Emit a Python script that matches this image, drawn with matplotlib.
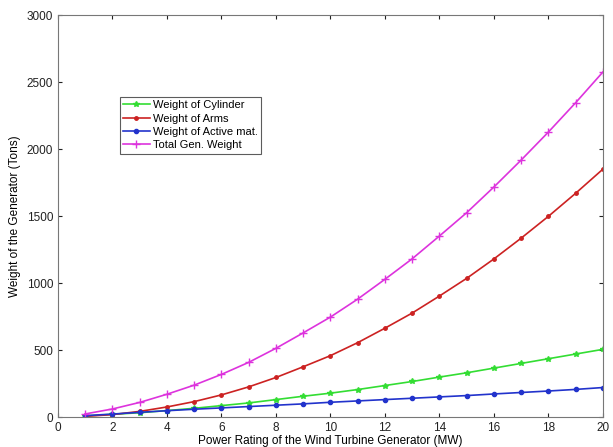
import matplotlib
matplotlib.use('Agg')
import matplotlib.pyplot as plt

plt.rcParams['font.family'] = ['Liberation Sans', 'DejaVu Sans']

power = list(range(1, 21))
cylinder = [8, 20, 32, 48, 65, 85, 105, 130, 155, 178, 205, 235, 265, 298, 330, 365, 400, 435, 470, 505]
arms = [5, 18, 42, 75, 115, 165, 225, 295, 375, 458, 555, 663, 776, 903, 1035, 1180, 1335, 1498, 1670, 1850]
active = [10, 22, 35, 47, 58, 68, 78, 88, 98, 110, 120, 130, 140, 150, 160, 172, 183, 194, 206, 220]
total = [23, 60, 109, 170, 238, 318, 408, 513, 628, 746, 880, 1028, 1181, 1351, 1525, 1717, 1918, 2127, 2346, 2575]

fig = plt.figure(figsize=(6.13, 4.47), dpi=100)
ax = fig.add_axes([0.0946, 0.0671, 0.889, 0.8993])

ax.plot(power, cylinder, color='#33dd33', marker='*', markersize=4, lw=1.2, label='Weight of Cylinder')
ax.plot(power, arms, color='#cc2222', marker='.', markersize=5, lw=1.2, label='Weight of Arms')
ax.plot(power, active, color='#2233cc', marker='o', markersize=3, lw=1.2, label='Weight of Active mat.')
ax.plot(power, total, color='#dd33dd', marker='+', markersize=6, lw=1.2, label='Total Gen. Weight')

ax.set_xlim(0, 20)
ax.set_ylim(0, 3000)
ax.set_xticks(range(0, 21, 2))
ax.set_yticks(range(0, 3001, 500))
ax.tick_params(direction='in', top=True, right=True, labelsize=8.5, length=3, colors='#222222')
for s in ax.spines.values():
    s.set_color('#777777')
    s.set_linewidth(0.8)

ax.set_xlabel('Power Rating of the Wind Turbine Generator (MW)', fontsize=8.5, labelpad=1)
ax.set_ylabel('Weight of the Generator (Tons)', fontsize=8.5, labelpad=4)

leg = ax.legend(loc='upper left', bbox_to_anchor=(0.103, 0.81), fontsize=8, frameon=True,
                fancybox=False, edgecolor='#333333', handlelength=2.4, borderpad=0.3,
                labelspacing=0.3, handletextpad=0.3)
leg.get_frame().set_linewidth(0.8)

fig.savefig('out.png', dpi=100)
